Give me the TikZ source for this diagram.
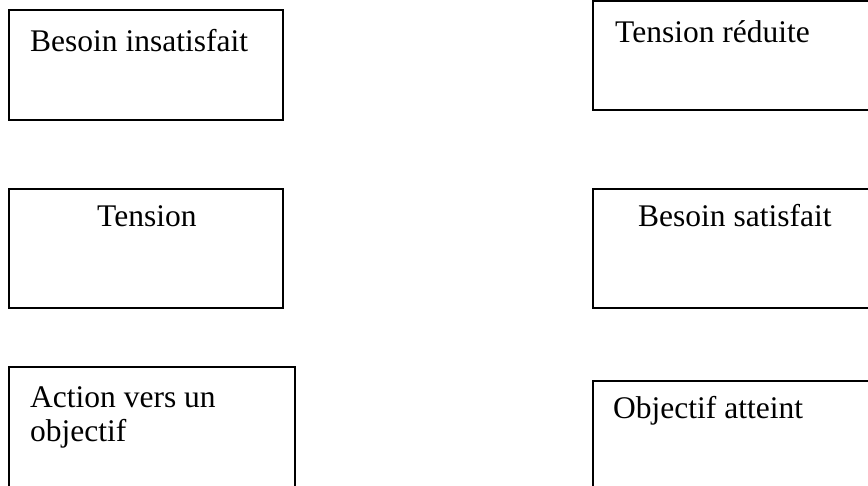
\documentclass[tikz,border=0pt]{standalone}
\usepackage{fontspec}
\setmainfont{Liberation Serif}
\begin{document}
\begin{tikzpicture}[x=1pt,y=-1pt,
  box/.style={draw=black,line width=1.1pt},
  lbl/.style={anchor=base west,inner sep=0pt,font=\fontsize{31.5}{35}\selectfont,align=left}]
\useasboundingbox (0,0) rectangle (868,486);
\clip (0,0) rectangle (868,486);
\fill[white] (0,0) rectangle (868,486);
% left column
\draw[box] (9,10) rectangle (283,120);
\node[lbl] (t1) at (30,52) {Besoin insatisfait};
\draw[box] (9,189) rectangle (283,308);
\node[lbl] (t3) at (97,227) {Tension};
\draw[box] (9,367) rectangle (295,495);
\node[lbl] (t5) at (30,442) {Action vers un\\objectif};
% right column
\draw[box] (593,1) rectangle (880,110);
\node[lbl] (t2) at (615,43) {Tension réduite};
\draw[box] (593,189) rectangle (880,308);
\node[lbl] (t4) at (638,227) {Besoin satisfait};
\draw[box] (593,381) rectangle (880,495);
\node[lbl] (t6) at (613,418) {Objectif atteint};
\end{tikzpicture}
\end{document}
